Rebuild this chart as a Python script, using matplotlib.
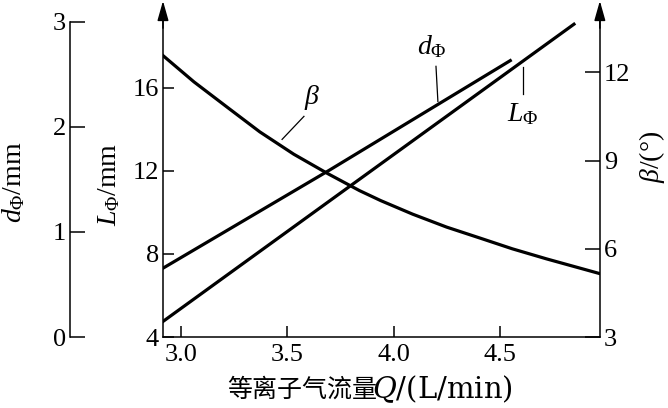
import matplotlib
matplotlib.use("Agg")
import matplotlib.pyplot as plt

plt.rcParams['font.family'] = ['Liberation Serif', 'Noto Sans CJK SC', 'DejaVu Sans']
plt.rcParams['mathtext.fontset'] = 'custom'
plt.rcParams['mathtext.rm'] = 'Liberation Serif'
plt.rcParams['mathtext.it'] = 'Liberation Serif:italic'

# plasma gas flow Q (L/min) and curves
q_d = [2.91, 3.70, 4.55]
d_phi = [0.65, 1.59, 2.63]

q_L = [2.91, 3.81, 4.85]
L_phi = [4.72, 11.38, 19.07]

q_b = [2.91, 3.06, 3.22, 3.37, 3.53, 3.69, 3.84, 3.94, 4.09, 4.25, 4.41, 4.56, 4.72, 4.88, 4.97]
beta = [12.6, 11.68, 10.8, 9.98, 9.22, 8.56, 7.98, 7.64, 7.18, 6.74, 6.36, 6.0, 5.66, 5.34, 5.16]

x_ticks = [3.0, 3.5, 4.0, 4.5]
L_ticks = [4, 8, 12, 16]
b_ticks = [3, 6, 9, 12]
d_ticks = [0, 1, 2, 3]

fs = 19
lw = 2.3

fig = plt.figure(figsize=(6.68, 4.08), dpi=100)
ax = fig.add_axes([0.244, 0.174, 0.654, 0.814])

ax.plot(q_L, L_phi, color='black', lw=lw)
ax.set_xlim(2.914, 4.972)
ax.set_ylim(4, 20)
ax.set_xticks(x_ticks)
ax.set_xticklabels(['3.0', '3.5', '4.0', '4.5'])
ax.set_yticks(L_ticks)
ax.tick_params(direction='in', length=8, width=1.1, labelsize=fs, pad=3)
ax.tick_params(axis='x', pad=5)
ax.spines['top'].set_visible(False)
ax.spines['right'].set_visible(False)
for s in ['left', 'bottom']:
    ax.spines[s].set_linewidth(1.1)
ax.set_ylabel(r'$L_{\Phi}$/mm', fontsize=20)
ax.yaxis.set_label_coords(-0.094, 0.46)

# beta axis on the right
axb = ax.twinx()
axb.plot(q_b, beta, color='black', lw=lw)
axb.set_ylim(3, 14.3)
axb.set_yticks(b_ticks)
axb.tick_params(direction='in', length=11, width=1.1, labelsize=fs, pad=3)
for s in ['top', 'left', 'bottom']:
    axb.spines[s].set_visible(False)
axb.spines['right'].set_linewidth(1.1)
axb.set_ylabel(r'$\beta$/(°)', fontsize=20)
axb.yaxis.set_label_coords(1.085, 0.542)

# d axis, detached on the far left
axd = ax.twinx()
axd.plot(q_d, d_phi, color='black', lw=lw)
axd.set_ylim(0, 3.16)
axd.set_yticks(d_ticks)
axd.yaxis.tick_left()
axd.yaxis.set_label_position('left')
for s in ['top', 'right', 'bottom']:
    axd.spines[s].set_visible(False)
axd.spines['left'].set_position(('axes', -0.213))
axd.spines['left'].set_bounds(0, 3)
axd.spines['left'].set_linewidth(1.1)
axd.tick_params(direction='in', length=11, width=1.1, labelsize=fs, pad=3)
axd.set_ylabel(r'$d_{\Phi}$/mm', fontsize=20)
axd.yaxis.set_label_coords(-0.311, 0.467)

# arrow heads on the L and beta axes
for xa in [0, 1]:
    ax.annotate('', xy=(xa, 1.012), xytext=(xa, 0.93), xycoords='axes fraction',
                arrowprops=dict(arrowstyle='-|>,head_length=0.6,head_width=0.17',
                                color='black', lw=1.1,
                                mutation_scale=20, shrinkA=0, shrinkB=0))

# curve labels with leader lines
ax.text(3.616, 15.55, r'$\beta$', fontsize=20, ha='center', va='center')
ax.plot([3.578, 3.475], [14.63, 13.52], color='black', lw=0.9)
ax.text(4.181, 18.0, r'$d_{\Phi}$', fontsize=20, ha='center', va='center')
ax.plot([4.200, 4.209], [17.04, 15.35], color='black', lw=0.9)
ax.text(4.609, 14.72, r'$L_{\Phi}$', fontsize=20, ha='center', va='center')
ax.plot([4.609, 4.609], [17.0, 15.69], color='black', lw=0.9)

# x label: Chinese part and Q/(L/min) part
fig.text(227 / 668, 0.045, '等离子气流量', fontsize=18, family='Noto Sans CJK SC',
         ha='left', va='center')
fig.text(372 / 668, 0.045, r'$Q$/(L/min)', fontsize=21, family='DejaVu Serif',
         math_fontfamily='dejavuserif', ha='left', va='center')

fig.savefig('out.png', dpi=100)
